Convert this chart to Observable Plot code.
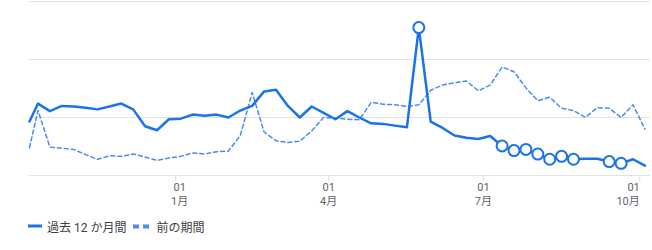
<!DOCTYPE html>
<html>
<head>
<meta charset="utf-8">
<script src="https://cdn.jsdelivr.net/npm/d3@7"></script>
<script src="https://cdn.jsdelivr.net/npm/@observablehq/plot@0.6"></script>
<style>
  html, body { margin: 0; padding: 0; background: #fff; }
  #chart { width: 652px; }
  .legend { display: flex; align-items: center; height: 16px; margin-top: 6px; padding-left: 28px;
    font: 12px Roboto, "Noto Sans CJK JP", sans-serif; color: #3c4043; }
  .legend svg { display: block; }
  .legend .item { display: flex; align-items: center; }
</style>
</head>
<body>
<div id="chart"></div>
<div class="legend">
  <span class="item"><svg width="14" height="4"><line x1="0" y1="2" x2="14" y2="2" stroke="#1a73e8" stroke-width="3"/></svg><span style="margin-left:5px">過去 12 か月間</span></span>
  <span class="item" style="margin-left:7px"><svg width="17" height="5"><rect x="0" y="0.5" width="6" height="4" fill="#4a8af4"/><rect x="10" y="0.5" width="6" height="4" fill="#4a8af4"/></svg><span style="margin-left:6px">前の期間</span></span>
</div>
<script>
const dates = [
  "2022-10-07","2022-10-12","2022-10-19","2022-10-26","2022-11-02","2022-11-09","2022-11-16","2022-11-23","2022-11-30",
  "2022-12-07","2022-12-14","2022-12-21","2022-12-28","2023-01-04","2023-01-11","2023-01-18","2023-01-25",
  "2023-02-01","2023-02-08","2023-02-15","2023-02-22","2023-03-01","2023-03-08","2023-03-15","2023-03-22","2023-03-29",
  "2023-04-05","2023-04-12","2023-04-19","2023-04-26","2023-05-03","2023-05-10","2023-05-17","2023-05-24","2023-05-31",
  "2023-06-07","2023-06-14","2023-06-21","2023-06-28","2023-07-05","2023-07-12","2023-07-19","2023-07-26",
  "2023-08-02","2023-08-09","2023-08-16","2023-08-23","2023-08-30","2023-09-06","2023-09-13","2023-09-20","2023-09-27","2023-10-04"
];
const current = [
  93,124,111,120,119,117,114,119,124,
  114,85,78,97,98,105,103,105,
  100,112,120,145,148,120,100,119,108,
  97,111,100,90,89,86,83,255,93,
  82,69,65,63,68,51,43,45,
  37,28,33,28,29,29,24,21,28,17
];
const previous = [
  48,112,49,47,45,36,28,34,33,
  37,32,26,30,33,39,37,41,
  42,69,143,75,60,57,59,77,100,
  99,97,96,126,123,122,119,122,147,
  156,160,163,146,156,187,179,151,
  129,135,116,112,100,117,116,100,122,80
];
const flaggedDates = ["2023-05-24","2023-07-12","2023-07-19","2023-07-26","2023-08-02","2023-08-09","2023-08-16","2023-08-23","2023-09-13","2023-09-20"];
const gridValues = [0, 100, 200, 300];
const tickDates = ["2023-01-01","2023-04-01","2023-07-01","2023-10-01"];
const tickDays = ["01","01","01","01"];
const tickMonths = ["1月","4月","7月","10月"];

const rows = dates.map((d, i) => ({date: new Date(d), cur: current[i], prev: previous[i], flag: flaggedDates.includes(d)}));
const labelOf = new Map(tickDates.map((d, i) => [+new Date(d), tickDays[i] + "\n" + tickMonths[i]]));
const fmt = d => labelOf.get(+d);
const td = tickDates.map(d => new Date(d));
const axisOpts = {tickFormat: fmt, tickSize: 6, tickPadding: 0, stroke: "#dadce0", color: "#5f6368", label: null, lineHeight: 1.25, fontSize: 11};

const chart = Plot.plot({
  width: 652,
  height: 212,
  marginTop: 1,
  marginBottom: 37,
  marginLeft: 29,
  marginRight: 2,
  style: {fontFamily: 'Roboto, "Noto Sans CJK JP", sans-serif', fontSize: "11px", background: "white", color: "#5f6368"},
  x: {type: "utc", domain: [new Date("2022-10-07"), new Date("2023-10-07T07:00Z")]},
  y: {domain: [0, 300], axis: null},
  marks: [
    Plot.ruleY(gridValues, {stroke: "#e2e2e2", strokeWidth: 1}),
    Plot.axisX([td[0]], {...axisOpts, stroke: "none", dx: 4}),
    Plot.axisX([td[0]], {...axisOpts, tickFormat: () => ""}),
    Plot.axisX([td[1], td[2]], {...axisOpts}),
    Plot.axisX([td[3]], {...axisOpts, textAnchor: "end"}),
    Plot.lineY(rows, {x: "date", y: "prev", stroke: "#4a8af4", strokeWidth: 1.5, strokeDasharray: "4,3"}),
    Plot.lineY(rows, {x: "date", y: "cur", stroke: "#1a73e8", strokeWidth: 2.5}),
    Plot.dot(rows.filter(r => r.flag), {x: "date", y: "cur", r: 5.5, fill: "white", stroke: "#1a73e8", strokeWidth: 2})
  ]
});
document.getElementById("chart").appendChild(chart);
</script>
</body>
</html>
